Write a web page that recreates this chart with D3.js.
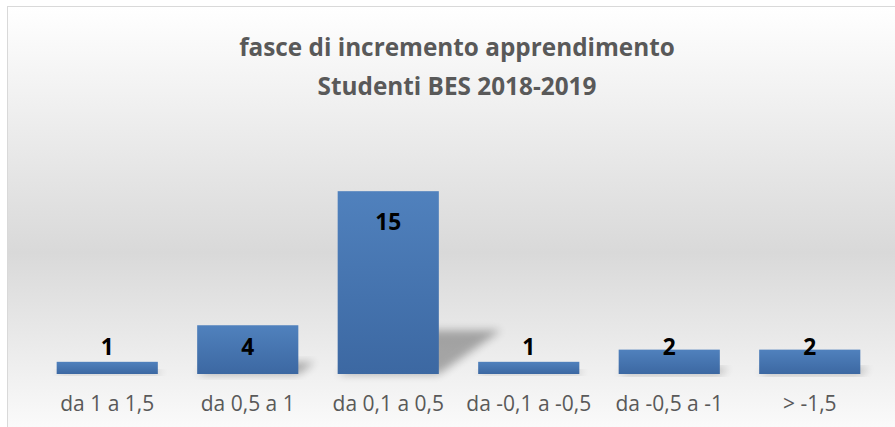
<!DOCTYPE html>
<html>
<head>
<meta charset="utf-8">
<script src="https://cdn.jsdelivr.net/npm/d3@7"></script>
<style>
  body { margin: 0; background: #fff; }
  text { font-family: "Open Sans", Lato, sans-serif; }
</style>
</head>
<body>
<div id="container"></div>
<script>
/* DATA */
const categories = ["da 1 a 1,5", "da 0,5 a 1", "da 0,1 a 0,5", "da -0,1 a -0,5", "da -0,5 a -1", "> -1,5"];
const values = [1, 4, 15, 1, 2, 2];
const titleLines = ["fasce di incremento apprendimento", "Studenti BES 2018-2019"];

/* CONSTANTS */
const width = 895,
  height = 427,
  margin = { top: 179, bottom: 53, left: 37, right: 15 };

const data = categories.map((c, i) => ({ cat: c, value: values[i] }));

// scale a text's font size so it spans a given width (Calibri stand-in)
function fitWidth(textSel, target) {
  const node = textSel.node();
  const size = parseFloat(textSel.attr("font-size"));
  const len = node.getComputedTextLength();
  return size * target / len;
}

const svg = d3.select("#container")
  .append("svg")
  .attr("width", width)
  .attr("height", height);

const defs = svg.append("defs");

// chart background: white -> grey -> white
const bg = defs.append("linearGradient")
  .attr("id", "bg").attr("x1", 0).attr("y1", 0).attr("x2", 0).attr("y2", 1);
bg.append("stop").attr("offset", "0%").attr("stop-color", "#ffffff");
bg.append("stop").attr("offset", "55%").attr("stop-color", "#d9d9d9");
bg.append("stop").attr("offset", "100%").attr("stop-color", "#ffffff");

const barGrad = defs.append("linearGradient")
  .attr("id", "bar").attr("x1", 0).attr("y1", 0).attr("x2", 0).attr("y2", 1);
barGrad.append("stop").attr("offset", "0%").attr("stop-color", "#5081bd");
barGrad.append("stop").attr("offset", "100%").attr("stop-color", "#3c68a2");

defs.append("filter")
  .attr("id", "blur").attr("x", "-50%").attr("y", "-50%").attr("width", "200%").attr("height", "200%")
  .append("feGaussianBlur").attr("stdDeviation", 4);

svg.append("rect")
  .attr("x", 7.5).attr("y", 6.5)
  .attr("width", width + 20).attr("height", height + 20)
  .attr("fill", "url(#bg)")
  .attr("stroke", "#d9d9d9");

/* SCALES */
const xScale = d3.scaleBand()
  .domain(categories)
  .range([margin.left, width - margin.right])
  .paddingInner(0.28)
  .paddingOuter(0.14);

const yScale = d3.scaleLinear()
  .domain([0, 16])
  .range([height - margin.bottom, margin.top]);

const base = yScale(0);

/* TITLE */
const title = svg.append("g")
  .selectAll("text")
  .data(titleLines)
  .join("text")
  .attr("x", 457)
  .attr("y", (d, i) => 56 + i * 39)
  .attr("text-anchor", "middle")
  .attr("font-size", 24)
  .attr("font-weight", "bold")
  .attr("fill", "#595959")
  .text(d => d);
title.attr("font-size", fitWidth(title.filter((d, i) => i === 0), 436));

/* SHADOWS */
svg.append("g")
  .selectAll("path")
  .data(data)
  .join("path")
  .attr("d", d => {
    const x0 = xScale(d.cat), x1 = x0 + xScale.bandwidth();
    const h = base - yScale(d.value);
    const sh = h * 0.24, dx = h * 0.34;
    return `M${x0},${base} L${x1},${base} L${x1 + dx},${base - sh} L${x0 + dx},${base - sh} Z`;
  })
  .attr("fill", "#000")
  .attr("opacity", 0.3)
  .attr("filter", "url(#blur)");

/* BARS */
svg.append("g")
  .selectAll("rect")
  .data(data)
  .join("rect")
  .attr("x", d => xScale(d.cat))
  .attr("y", d => yScale(d.value))
  .attr("width", xScale.bandwidth())
  .attr("height", d => base - yScale(d.value))
  .attr("fill", "url(#bar)");

/* VALUE LABELS */
const labels = svg.append("g")
  .selectAll("text")
  .data(data)
  .join("text")
  .attr("x", d => xScale(d.cat) + xScale.bandwidth() / 2)
  .attr("y", d => Math.min(yScale(d.value) + 31, 347))
  .attr("dy", "0.35em")
  .attr("text-anchor", "middle")
  .attr("font-size", 20)
  .attr("font-weight", "bold")
  .attr("fill", "#000")
  .text(d => d.value);
labels.attr("font-size", fitWidth(labels.filter(d => d.value === 15), 26));

/* X AXIS */
const xAxis = d3.axisBottom(xScale)
  .tickSize(0)
  .tickPadding(0);

svg.append("g")
  .attr("transform", `translate(0,${base})`)
  .call(xAxis)
  .call(g => g.select(".domain").remove())
  .call(g => {
    const t = g.selectAll("text")
      .attr("y", 37)
      .attr("dy", null)
      .attr("font-size", 18)
      .attr("font-family", "'Open Sans', Lato, sans-serif")
      .attr("fill", "#595959");
    t.attr("font-size", fitWidth(t.filter((d, i) => i === 0), 94));
  });
</script>
</body>
</html>
